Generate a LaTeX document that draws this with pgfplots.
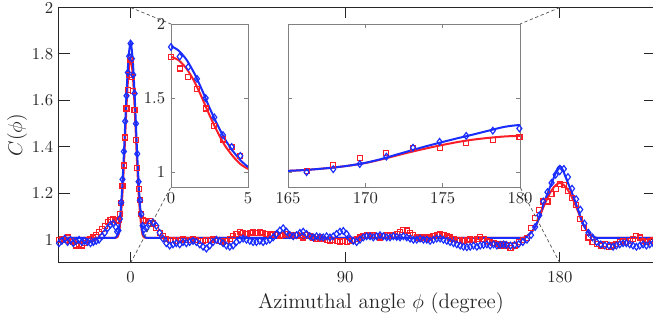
\documentclass[border=0pt]{standalone}
\usepackage{pgfplots}
\usepackage{pgfplotstable}
\pgfplotsset{compat=1.18}
\definecolor{myblue}{RGB}{25,45,255}
\definecolor{myred}{RGB}{250,30,40}
\definecolor{axgray}{RGB}{38,38,38}
\definecolor{insgray}{RGB}{128,128,128}
\pgfplotsset{
  bluemk/.style={only marks, mark=diamond, mark size=2pt, mark options={draw=myblue, line width=0.7pt, fill=none}},
  redmk/.style={only marks, mark=square, mark size=1.5pt, mark options={draw=myred, line width=0.7pt, fill=none}},
  bluefit/.style={no marks, smooth, tension=0.4, myblue, line width=1.2pt},
  redfit/.style={no marks, smooth, tension=0.4, myred, line width=1.2pt},
}
\begin{document}
\pgfplotstableread{
x y
-30 0.985
-28.8 0.995
-27.6 1.005
-26.4 0.990
-25.2 1.000
-24.0 0.985
-22.8 0.995
-21.6 1.000
-20.4 0.990
-19.2 0.995
-18.0 0.990
-16.8 0.985
-15.6 0.990
-14.4 0.995
-13.2 1.000
-12.0 1.015
-10.8 1.030
-9.6 1.050
-8.4 1.065
-7.2 1.070
-6.2 1.055
-5.625 1.035
-5.0625 1.040
-4.5 1.090
-3.9375 1.160
-3.375 1.260
-2.8125 1.380
-2.25 1.510
-1.6875 1.620
-1.125 1.720
-0.5625 1.790
0 1.845
0.5625 1.780
1.125 1.710
1.6875 1.630
2.25 1.500
2.8125 1.370
3.375 1.250
3.9375 1.170
4.5 1.110
5.0625 1.060
5.625 1.045
6.6 1.050
8.0 1.070
9.4 1.075
10.8 1.060
12.2 1.030
13.6 1.005
15.0 0.985
16.4 0.975
17.8 0.980
19.2 0.985
20.6 0.980
22.0 0.990
23.4 0.985
24.8 0.990
26.2 0.995
27.6 0.990
29.0 0.980
30.4 0.970
31.8 0.962
33.2 0.975
34.6 0.990
36.0 1.000
37.4 0.995
38.8 0.985
40.2 0.975
41.6 0.970
43.0 0.975
44.4 0.990
45.8 1.000
47.2 1.005
48.6 1.000
50.0 0.995
51.4 0.990
52.8 0.990
54.2 0.995
55.6 0.990
57.0 0.995
58.4 1.000
59.8 1.010
61.2 1.025
62.6 1.040
64.0 1.050
65.4 1.035
66.8 1.020
68.2 1.015
69.6 1.020
71.0 1.030
72.4 1.035
73.8 1.025
75.2 1.015
76.6 1.010
78.0 1.015
79.4 1.012
80.8 1.010
82.2 1.015
83.6 1.010
85.0 1.015
86.4 1.025
87.8 1.035
89.2 1.038
90.6 1.025
92.0 1.005
93.4 0.995
94.8 0.990
96.2 1.000
97.6 1.010
99.0 1.015
100.4 1.015
101.8 1.010
103.2 1.015
104.6 1.020
106.0 1.015
107.4 1.010
108.8 1.010
110.2 1.015
111.6 1.012
113.0 1.010
114.4 1.015
115.8 1.010
117.2 1.005
118.6 1.000
120.0 1.000
121.4 1.005
122.8 1.000
124.2 1.000
125.6 0.995
127.0 1.000
128.4 1.005
129.8 1.005
131.2 1.000
132.6 0.995
134.0 0.990
135.4 0.985
136.8 0.980
138.2 0.975
139.6 0.970
141.0 0.968
142.4 0.970
143.8 0.975
145.2 0.970
146.6 0.975
148.0 0.978
149.4 0.980
150.8 0.975
152.2 0.980
153.6 0.975
155.0 0.978
156.4 0.980
157.6 0.978
159.32 0.975
161.04 0.978
162.76 0.982
164.48 0.990
166.2 1.000
167.92 1.020
169.64 1.055
171.36 1.105
173.08 1.165
174.8 1.205
176.52 1.245
178.24 1.280
179.96 1.295
181.68 1.305
183.4 1.270
185.12 1.220
186.84 1.175
188.56 1.130
190.28 1.070
192.0 1.030
193.72 1.010
195.44 0.990
197.16 0.980
198.88 0.975
200.6 0.975
202.32 0.970
203.7 0.975
205.1 0.980
206.5 0.985
207.9 0.985
209.3 0.980
210.7 0.975
212.1 0.970
213.5 0.975
214.9 0.980
216.3 0.975
217.7 0.980
219.1 0.985
}\blued
\pgfplotstableread{
x y
-30 1.000
-28.8 1.005
-27.6 1.000
-26.4 1.010
-25.2 0.995
-24.0 0.990
-22.8 0.975
-21.6 0.980
-20.4 0.975
-19.2 0.985
-18.0 1.000
-16.8 1.005
-15.6 1.010
-14.4 1.020
-13.2 1.035
-12.0 1.045
-10.8 1.060
-9.6 1.075
-8.4 1.085
-7.2 1.090
-6.2 1.085
-5.625 1.080
-5.0625 1.085
-4.5 1.110
-3.9375 1.160
-3.375 1.230
-2.8125 1.320
-2.25 1.440
-1.6875 1.565
-1.125 1.645
-0.5625 1.710
0 1.775
0.5625 1.700
1.125 1.640
1.6875 1.560
2.25 1.430
2.8125 1.310
3.375 1.220
3.9375 1.170
4.5 1.110
5.0625 1.085
5.625 1.080
6.6 1.080
8.0 1.080
9.4 1.070
10.8 1.050
12.2 1.030
13.6 1.015
15.0 1.005
16.4 1.000
17.8 1.000
19.2 0.995
20.6 1.000
22.0 1.005
23.4 1.000
24.8 1.000
26.2 1.005
27.6 1.000
29.0 0.995
30.4 0.995
31.8 1.000
33.2 1.000
34.6 1.005
36.0 1.000
37.4 0.995
38.8 0.990
40.2 0.995
41.6 1.005
43.0 1.015
44.4 1.025
45.8 1.035
47.2 1.030
48.6 1.025
50.0 1.030
51.4 1.035
52.8 1.030
54.2 1.035
55.6 1.030
57.0 1.025
58.4 1.020
59.8 1.025
61.2 1.020
62.6 1.015
64.0 1.020
65.4 1.025
66.8 1.020
68.2 1.015
69.6 1.020
71.0 1.015
72.4 1.010
73.8 1.020
75.2 1.015
76.6 1.010
78.0 1.005
79.4 1.010
80.8 1.005
82.2 1.000
83.6 0.995
85.0 1.000
86.4 0.995
87.8 0.990
89.2 0.995
90.6 0.990
92.0 0.993
93.4 1.000
94.8 1.005
96.2 1.010
97.6 1.015
99.0 1.020
100.4 1.015
101.8 1.020
103.2 1.015
104.6 1.010
106.0 1.015
107.4 1.020
108.8 1.015
110.2 1.020
111.6 1.025
113.0 1.035
114.4 1.043
115.8 1.040
117.2 1.030
118.6 1.020
120.0 1.010
121.4 1.005
122.8 1.010
124.2 1.005
125.6 1.010
127.0 1.015
128.4 1.020
129.8 1.025
131.2 1.022
132.6 1.015
134.0 1.010
135.4 1.005
136.8 1.000
138.2 1.000
139.6 0.995
141.0 1.000
142.4 1.005
143.8 1.000
145.2 1.005
146.6 1.012
148.0 1.005
149.4 0.995
150.8 0.990
152.2 0.985
153.6 0.980
155.0 0.975
156.4 0.980
157.6 0.975
159.32 0.965
161.04 0.975
162.76 0.990
164.48 1.000
166.2 1.007
167.92 1.050
169.64 1.094
171.36 1.127
173.08 1.165
174.8 1.165
176.52 1.198
178.24 1.218
179.96 1.240
181.68 1.235
183.4 1.210
185.12 1.180
186.84 1.150
188.56 1.090
190.28 1.050
192.0 1.010
193.72 0.990
195.44 0.980
197.16 0.975
198.88 0.980
200.6 0.970
202.32 0.975
203.7 0.980
205.1 0.990
206.5 0.995
207.9 0.990
209.3 0.995
210.7 1.005
212.1 1.015
213.5 1.010
214.9 0.995
216.3 0.990
217.7 0.995
219.1 1.000
}\redd
\pgfplotstableread{
x y
-30 1.008
-25 1.008
-20 1.008
-16 1.008
-13 1.008
-11 1.008
-9.5 1.008
-8 1.008
-7 1.008
-6.5 1.009
-6 1.012
-5.5 1.020
-5 1.036
-4.5 1.082
-4 1.145
-3.5 1.223
-3 1.323
-2.5 1.435
-2 1.558
-1.5 1.670
-1 1.760
-0.5 1.820
0 1.848
0.5 1.820
1 1.760
1.5 1.670
2 1.558
2.5 1.435
3 1.323
3.5 1.223
4 1.145
4.5 1.082
5 1.036
5.5 1.020
6 1.012
6.5 1.009
7 1.008
8 1.008
9.5 1.008
11 1.008
13 1.008
16 1.008
20 1.008
25 1.008
30 1.008
40 1.008
50 1.008
60 1.008
70 1.008
80 1.008
90 1.008
100 1.008
110 1.008
120 1.008
130 1.008
140 1.008
150 1.008
155 1.008
158 1.008
160 1.008
162 1.008
163 1.008
164 1.008
165 1.009
166 1.014
167 1.022
168 1.032
169 1.045
170 1.063
171 1.088
172 1.118
173 1.148
174 1.177
175 1.204
176 1.230
177 1.255
178 1.281
179 1.306
180 1.318
181 1.306
182 1.281
183 1.255
184 1.230
185 1.204
186 1.177
187 1.148
188 1.118
189 1.088
190 1.063
191 1.045
192 1.032
193 1.022
194 1.014
195 1.009
196 1.008
197 1.008
198 1.008
200 1.008
202 1.008
205 1.008
210 1.008
215 1.008
220 1.008
}\bluef
\pgfplotstableread{
x y
-30 1.008
-25 1.008
-20 1.008
-16 1.008
-13 1.008
-11 1.008
-9.5 1.008
-8 1.008
-7 1.008
-6 1.009
-5.5 1.012
-5 1.023
-4.5 1.055
-4 1.110
-3.5 1.180
-3 1.275
-2.5 1.385
-2 1.505
-1.5 1.615
-1 1.700
-0.5 1.755
0 1.777
0.5 1.755
1 1.700
1.5 1.615
2 1.505
2.5 1.385
3 1.275
3.5 1.180
4 1.110
4.5 1.055
5 1.023
5.5 1.012
6 1.009
7 1.008
8 1.008
9.5 1.008
11 1.008
13 1.008
16 1.008
20 1.008
25 1.008
30 1.008
40 1.008
50 1.008
60 1.008
70 1.008
80 1.008
90 1.008
100 1.008
110 1.008
120 1.008
130 1.008
140 1.008
150 1.008
155 1.008
158 1.008
160 1.008
162 1.008
163 1.008
164 1.008
165 1.009
166 1.014
167 1.022
168 1.032
169 1.045
170 1.062
171 1.085
172 1.112
173 1.138
174 1.162
175 1.184
176 1.204
177 1.220
178 1.232
179 1.241
180 1.245
181 1.241
182 1.232
183 1.220
184 1.204
185 1.184
186 1.162
187 1.138
188 1.112
189 1.085
190 1.062
191 1.045
192 1.032
193 1.022
194 1.014
195 1.009
196 1.008
197 1.008
198 1.008
200 1.008
202 1.008
205 1.008
210 1.008
215 1.008
220 1.008
}\redf
\begin{tikzpicture}
\begin{axis}[
  name=main, at={(0pt,0pt)}, anchor=south west,
  scale only axis, width=357.75pt, height=153.3pt,
  xmin=-30, xmax=220, ymin=0.9, ymax=2,
  xtick={0,90,180}, ytick={1,1.2,1.4,1.6,1.8,2},
  yticklabels={1,1.2,1.4,1.6,1.8,2},
  tick align=inside, major tick length=6.5pt,
  axis line style={axgray, line width=0.6pt},
  tick style={axgray, line width=0.6pt},
  ticklabel style={text=axgray},
  xticklabel style={yshift=-2pt},
  xlabel={Azimuthal angle $\phi$ (degree)},
  ylabel={$C(\phi)$},
  xlabel style={at={(ticklabel cs:0.54)}, anchor=north, font=\fontsize{12.6}{15}\selectfont, text=axgray, yshift=1pt},
  ylabel style={font=\fontsize{13}{16}\selectfont, text=axgray, yshift=-4pt},
]
\addplot[redmk] table[x=x,y=y] {\redd};
\addplot[bluemk] table[x=x,y=y] {\blued};
\addplot[redfit] table[x=x,y=y] {\redf};
\addplot[bluefit] table[x=x,y=y] {\bluef};
\coordinate (a0t) at (axis cs:0,2);
\coordinate (a0b) at (axis cs:0,0.9);
\coordinate (a1t) at (axis cs:180,2);
\coordinate (a1b) at (axis cs:180,0.9);
\end{axis}
\begin{axis}[
  name=ins1, at={(67.2pt,45.6pt)}, anchor=south west,
  scale only axis, width=46.2pt, height=97.8pt,
  xmin=0, xmax=5, ymin=0.9, ymax=2,
  xtick={0,5}, ytick={1,1.5,2},
  axis background/.style={fill=white},
  tick align=inside, major tick length=2.5pt,
  axis line style={insgray, line width=0.5pt},
  tick style={insgray, line width=0.5pt},
  ticklabel style={text=axgray},
]
\addplot[redmk] table[x=x,y=y] {\redd};
\addplot[bluemk] table[x=x,y=y] {\blued};
\addplot[redfit] table[x=x,y=y] {\redf};
\addplot[bluefit] table[x=x,y=y] {\bluef};
\end{axis}
\begin{axis}[
  name=ins2, at={(137.4pt,45.6pt)}, anchor=south west,
  scale only axis, width=139.2pt, height=97.8pt,
  xmin=165, xmax=180, ymin=0.9, ymax=2,
  xtick={165,170,175,180}, ytick={1,1.5,2}, yticklabels={},
  axis background/.style={fill=white},
  tick align=inside, major tick length=2.5pt,
  axis line style={insgray, line width=0.5pt},
  tick style={insgray, line width=0.5pt},
  ticklabel style={text=axgray},
]
\addplot[redmk] table[x=x,y=y] {\redd};
\addplot[bluemk] table[x=x,y=y] {\blued};
\addplot[redfit] table[x=x,y=y] {\redf};
\addplot[bluefit] table[x=x,y=y] {\bluef};
\end{axis}
\draw[black!70, line width=0.4pt, dash pattern=on 2pt off 1.5pt] (a0t) -- (ins1.north west);
\draw[black!70, line width=0.4pt, dash pattern=on 2pt off 1.5pt] (a0b) -- (ins1.south west);
\draw[black!70, line width=0.4pt, dash pattern=on 2pt off 1.5pt] (a1t) -- (ins2.north east);
\draw[black!70, line width=0.4pt, dash pattern=on 2pt off 1.5pt] (a1b) -- (ins2.south east);
\pgfresetboundingbox
\useasboundingbox (-35.4pt,-34.2pt) rectangle (356.4pt,157.8pt);
\end{tikzpicture}
\end{document}
